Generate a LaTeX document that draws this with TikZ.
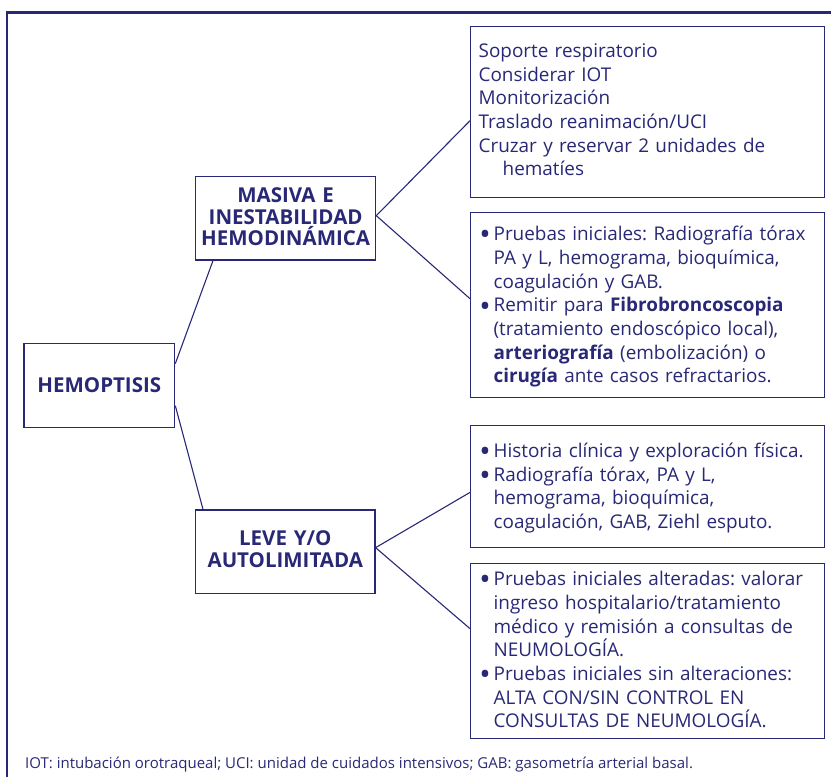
\documentclass[tikz,border=0pt]{standalone}
\usepackage{fontspec}
\setmainfont{Open Sans}
\definecolor{navy}{RGB}{40,40,118}
\newcommand\itm{\makebox[13pt][l]{\raisebox{-2.3pt}{\scalebox{1.25}{\textbf{\textbullet}}}}}
\newcommand\ind{\hspace*{13pt}}
\begin{document}
\frenchspacing
\begin{tikzpicture}[x=1pt,y=-1pt,
  body/.style={draw=navy, line width=1.3pt, rectangle, anchor=north west,
    inner ysep=0pt, align=left, text=navy, font=\frenchspacing\fontsize{18.9}{23.7}\selectfont},
  head/.style={draw=navy, line width=1.3pt, rectangle, anchor=north west,
    inner xsep=0pt, inner ysep=0pt, align=center, text=navy,
    font=\bfseries\fontsize{20.5}{21.7}\selectfont},
  link/.style={draw=navy, line width=1.1pt}
]
\useasboundingbox (0,0) rectangle (831,777);
\draw[navy, line width=2.6pt] (7,777) -- (7,12.7) -- (831,12.7);

% heading boxes
\node[head, text width=150.7pt, text height=49pt, text depth=35pt] (h) at (23.3,342.7) {HEMOPTISIS};
\node[head, text width=180pt, text height=26pt, text depth=57.6pt] (m) at (195,175.7) {MASIVA E\\INESTABILIDAD\\HEMODINÁMICA};
\node[head, text width=179.3pt, text height=35.7pt, text depth=47.7pt] (l) at (195,509.3) {LEVE Y/O\\AUTOLIMITADA};

% content boxes
\node[body, inner xsep=8pt, text width=337.5pt, text height=31pt, text depth=140.3pt] (b1) at (470,25.7)
 {Soporte respiratorio\\Considerar IOT\\Monitorización\\Traslado reanimación/UCI\\Cruzar y reservar 2 unidades de\\\hspace*{24pt}hematíes};
\node[body, inner xsep=10pt, text width=333.5pt, text height=28.3pt, text depth=157pt] (b2) at (470,211.7)
 {\itm Pruebas iniciales: Radiografía tórax\\\ind PA y L, hemograma, bioquímica,\\\ind coagulación y GAB.\\\itm Remitir para \textbf{Fibrobroncoscopia}\\\ind (tratamiento endoscópico local),\\\ind \textbf{arteriografía} (embolización) o\\\ind \textbf{cirugía} ante casos refractarios.};
\node[body, inner xsep=10pt, text width=333.5pt, text height=31.7pt, text depth=90pt] (b3) at (470,425)
 {\itm Historia clínica y exploración física.\\\itm Radiografía tórax, PA y L,\\\ind hemograma, bioquímica,\\\ind coagulación, GAB, Ziehl esputo.};
\node[body, inner xsep=10pt, text width=333.5pt, text height=22pt, text depth=153pt] (b4) at (470,563)
 {\itm Pruebas iniciales alteradas: valorar\\\ind ingreso hospitalario/tratamiento\\\ind médico y remisión a consultas de\\\ind NEUMOLOGÍA.\\\itm Pruebas iniciales sin alteraciones:\\\ind ALTA CON/SIN CONTROL EN\\\ind CONSULTAS DE NEUMOLOGÍA.};

% footer
\node[anchor=base west, inner sep=0pt, text=navy, font=\frenchspacing\fontsize{15}{16}\selectfont] (foot) at (25,768)
 {IOT: intubación orotraqueal; UCI: unidad de cuidados intensivos; GAB: gasometría arterial basal.};

% connectors
\draw[link] ([yshift=21.7pt]h.east) -- ([xshift=18pt]m.south west);
\draw[link] ([yshift=-20.3pt]h.east) -- ([xshift=8pt]l.north west);
\draw[link] ([yshift=2.5pt]m.east) -- ([yshift=-8.7pt]b1.west);
\draw[link] ([yshift=2.5pt]m.east) -- ([yshift=6.3pt]b2.west);
\draw[link] ([yshift=4pt]l.east) -- ([yshift=-5.9pt]b3.west);
\draw[link] ([yshift=4pt]l.east) -- ([yshift=22.5pt]b4.west);
\end{tikzpicture}
\end{document}
